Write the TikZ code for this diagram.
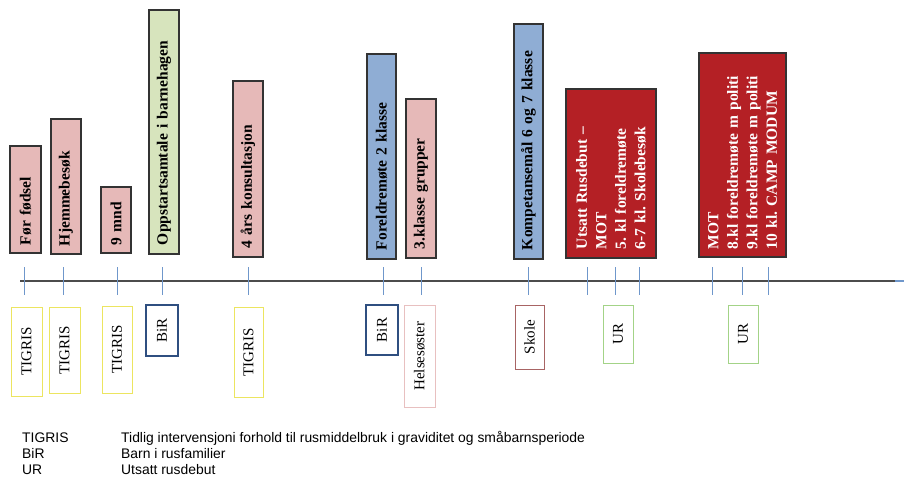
\documentclass[tikz,border=0pt]{standalone}
\usepackage{fontspec}
\setmainfont{Liberation Serif}
\setsansfont{Liberation Sans}
\usepackage{tikz}
\frenchspacing

\definecolor{pinkfill}{HTML}{E6B9B8}
\definecolor{greenfill}{HTML}{D7E4BD}
\definecolor{bluefill}{HTML}{8FADD4}
\definecolor{redfill}{HTML}{B42025}
\definecolor{tickblue}{HTML}{6F97CB}
\definecolor{tigrisline}{HTML}{ECE560}
\definecolor{birline}{HTML}{2F4F80}
\definecolor{helseline}{HTML}{E8C0C0}
\definecolor{skoleline}{HTML}{A86464}
\definecolor{urline}{HTML}{A3D387}

\tikzset{
  event/.style={draw=black!80, line width=1.1pt, rotate=90, inner sep=0pt, align=left,
    font=\fontsize{15.5}{19.5}\selectfont\bfseries},
  pinkbox/.style={event, fill=pinkfill},
  greenbox/.style={event, fill=greenfill},
  bluebox/.style={event, fill=bluefill},
  redbox/.style={event, fill=redfill, text=white},
  actor/.style={rotate=90, inner sep=0pt, line width=0.9pt, align=center,
    font=\fontsize{15}{18}\selectfont},
  tigris/.style={actor, draw=tigrisline},
  bir/.style={actor, draw=birline, line width=2pt},
  helse/.style={actor, draw=helseline},
  skole/.style={actor, draw=skoleline},
  ur/.style={actor, draw=urline},
  legend/.style={anchor=base west, inner sep=0pt, font=\sffamily\fontsize{13.9}{16}\selectfont}
}

\begin{document}
\begin{tikzpicture}[x=1pt, y=-1pt]
                \useasboundingbox (0,0) rectangle (904,477);

                % The axis
                \draw[black!70, line width=1.5pt] (20,281) -- (895,281);
                \draw[tickblue, line width=1.5pt] (895,281) -- (904,281);
                \foreach \t in {24,63,117,162,248,383,421,528,587,615,639,712,742,768}
                    \draw[tickblue, line width=1pt] (\t,267) -- (\t,295);

                % events above the axis
                \node[pinkbox, minimum width=107, minimum height=31, text width=91] (fodsel) at (25.5,199.5) {Før fødsel};
                \node[pinkbox, minimum width=135, minimum height=30, text width=119] (hjemme) at (66,186.5) {Hjemmebesøk};
                \node[pinkbox, minimum width=66, minimum height=30, text width=50] (mnd) at (116,220) {9 mnd};
                \node[greenbox, minimum width=244, minimum height=30, text width=226] (oppstart) at (164,132) {Oppstartsamtale i barnehagen};
                \node[pinkbox, minimum width=176, minimum height=30, text width=158] (konsult) at (248,169) {4 års konsultasjon};
                \node[bluebox, minimum width=205, minimum height=29, text width=187] (foreldre) at (381.5,156.5) {Foreldremøte 2 klasse};
                \node[pinkbox, minimum width=159, minimum height=30, text width=141] (grupper) at (421,178.5) {3.klasse grupper};
                \node[bluebox, minimum width=235, minimum height=29, text width=217] (kompetanse) at (528.5,141.5) {Kompetansemål 6 og 7 klasse};
                \node[redbox, minimum width=169, minimum height=90, text width=151] (utsatt) at (611,173.5)
                    {Utsatt Rusdebut --\\MOT\\5. kl foreldremøte\\6-7 kl. Skolebesøk};
                \node[redbox, minimum width=204, minimum height=87, text width=188] (mot) at (742.5,155)
                    {MOT\\8.kl foreldremøte m politi\\9.kl foreldremøte m politi\\10 kl. CAMP MODUM};

                % who is responsible
                \node[tigris, minimum width=89, minimum height=31] (tigrisA) at (26.5,351.5) {TIGRIS};
                \node[tigris, minimum width=86, minimum height=31] (tigrisB) at (64.5,350) {TIGRIS};
                \node[tigris, minimum width=87, minimum height=30] (tigrisC) at (117,349.5) {TIGRIS};
                \node[bir, minimum width=51, minimum height=32] (birA) at (162,330.5) {BiR};
                \node[tigris, minimum width=90, minimum height=29] (tigrisD) at (248.5,352) {TIGRIS};
                \node[bir, minimum width=50, minimum height=32] (birB) at (382,330) {BiR};
                \node[helse, minimum width=102, minimum height=31] (helse) at (419.5,356) {Helsesøster};
                \node[skole, minimum width=64, minimum height=29] (skole) at (529.5,337) {Skole};
                \node[ur, minimum width=58, minimum height=30] (urA) at (618,334) {UR};
                \node[ur, minimum width=58, minimum height=30] (urB) at (743,334) {UR};

                % legend
                \node[legend] (kTigris) at (22,442) {TIGRIS};
                \node[legend] (kBir) at (22,458) {BiR};
                \node[legend] (kUr) at (22,474) {UR};
                \node[legend] (vTigris) at (121,442) {Tidlig intervensjoni forhold til rusmiddelbruk i graviditet og småbarnsperiode};
                \node[legend] (vBir) at (121,458) {Barn i rusfamilier};
                \node[legend] (vUr) at (121,474) {Utsatt rusdebut};
\end{tikzpicture}
\end{document}
